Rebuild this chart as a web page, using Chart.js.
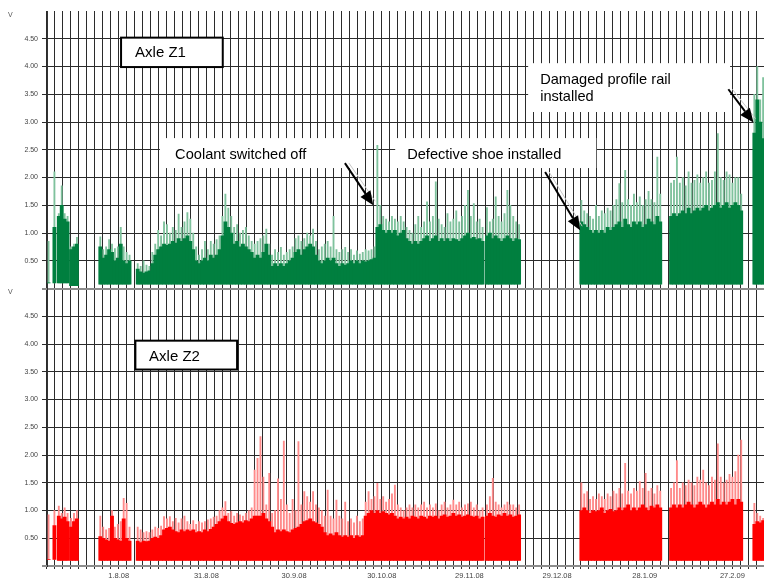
<!DOCTYPE html>
<html>
<head>
<meta charset="utf-8">
<title>Axle Z1 / Z2</title>
<script src="https://cdn.jsdelivr.net/npm/chart.js@4/dist/chart.umd.min.js"></script>
<style>
  html, body { margin: 0; padding: 0; background: #fff; }
  #axleChart { display: block; }
</style>
</head>
<body>
<canvas id="axleChart" width="764" height="583"></canvas>
<script>
// x values are days counted from 1.8.08 (day 0), y values are volts

// ---- axis ----
const dateLabels = ['1.8.08', '31.8.08', '30.9.08', '30.10.08', '29.11.08', '29.12.08', '28.1.09', '27.2.09'];
const labelDays  = [0, 30, 60, 90, 120, 150, 180, 210];
const dayMin = -24.54;
const dayMax = 220.8;

// ---- Axle Z1 (green) : one row per recorded block, one value per day ----
const z1Start = [-24, -22, -20.5, -16.3, -6.3, 6.5, 126, 158.3, 189, 217.5];
const z1Base  = [0.1, 0.1, 0.1, 0.05, 0.08, 0.08, 0.08, 0.08, 0.08, 0.08];
const z1Body = [
  [0.1],
  [1.1],
  [1.3, 1.5, 1.25, 1.2],
  [0.7, 0.75, 0.8],
  [0.75, 0.55, 0.6, 0.7, 0.65, 0.5, 0.55, 0.8, 0.5, 0.45, 0.5],
  [0.35, 0.3, 0.28, 0.3, 0.32,
   0.45, 0.6, 0.7, 0.75, 0.8, 0.78, 0.8, 0.85, 0.82, 0.9,
   0.85, 0.9, 0.95, 0.85, 0.7, 0.5, 0.45, 0.5, 0.55, 0.5,
   0.6, 0.55, 0.6, 0.7, 0.95, 1.2, 1.1, 1.0, 0.8, 0.85,
   0.75, 0.8, 0.75, 0.7, 0.65, 0.55, 0.6, 0.55, 0.65, 0.8,
   0.6, 0.4, 0.45, 0.4, 0.45, 0.4, 0.45, 0.5, 0.55, 0.65,
   0.7, 0.6, 0.7, 0.75, 0.8, 0.75, 0.6, 0.5, 0.45, 0.5,
   0.55, 0.5, 0.55, 0.45, 0.4, 0.45, 0.42, 0.45, 0.5, 0.45,
   0.5, 0.45, 0.5, 0.48, 0.5, 0.52, 0.55, 1.1, 1.15, 1.05,
   1.0, 1.05, 1.0, 1.05, 0.95, 1.0, 1.05, 0.9, 0.85, 0.8,
   0.85, 0.8, 0.85, 0.9, 0.95, 0.85, 0.9, 0.95, 0.85, 0.9,
   0.85, 0.9, 0.85, 0.9, 0.88, 0.85, 0.9, 0.95, 1.0, 0.9,
   0.92, 0.88, 0.9, 0.85],
  [0.95, 1.0, 0.9, 0.95, 0.9, 0.85, 0.9, 0.95, 0.9, 0.85, 0.9, 0.88],
  [1.2, 1.15, 1.1, 1.05, 1.0, 1.05, 1.0, 1.05, 1.0, 1.1, 1.05, 1.1, 1.15, 1.2,
   1.1, 1.25, 1.15, 1.1, 1.2, 1.15, 1.2, 1.1, 1.15, 1.25, 1.2, 1.15, 1.3, 1.2],
  [1.3, 1.35, 1.3, 1.35, 1.4, 1.35, 1.45, 1.35, 1.4, 1.45, 1.4, 1.45, 1.5,
   1.4, 1.45, 1.5, 1.55, 1.45, 1.5, 1.55, 1.45, 1.5, 1.55, 1.5, 1.4],
  [2.8, 3.4, 3.0, 2.7]
];
const z1Peak = [
  [0.85],
  [2.1],
  [1.35, 1.85, 1.35, 1.3],
  [0.75, 0.8, 0.92],
  [0.93, 0.7, 0.75, 0.88, 0.8, 0.72, 0.75, 1.1, 0.75, 0.65, 0.6],
  [0.45, 0.4, 0.5, 0.42, 0.4,
   0.65, 0.8, 1.05, 0.95, 1.2, 1.15, 1.0, 1.1, 1.05, 1.34,
   1.1, 1.2, 1.37, 1.25, 1.0, 0.75, 0.6, 0.7, 0.85, 0.7,
   0.85, 0.8, 0.88, 0.95, 1.3, 1.7, 1.45, 1.3, 1.1, 1.15,
   1.0, 1.05, 1.1, 0.95, 0.85, 0.8, 0.85, 0.9, 0.95, 1.07,
   0.8, 0.6, 0.7, 0.65, 0.74, 0.6, 0.65, 0.7, 0.75, 0.9,
   0.95, 0.85, 0.9, 1.0, 0.95, 1.07, 0.85, 0.7, 0.75, 0.8,
   0.85, 0.75, 1.3, 0.7, 0.65, 0.7, 0.74, 0.65, 0.7, 0.6,
   0.68, 0.62, 0.65, 0.7, 0.68, 0.7, 0.75, 2.58, 1.5, 1.3,
   1.25, 1.2, 1.3, 1.25, 1.2, 1.3, 1.2, 1.1, 1.05, 1.0,
   1.15, 1.3, 1.1, 1.2, 1.56, 1.2, 1.3, 1.92, 1.25, 1.15,
   1.1, 1.35, 1.2, 1.25, 1.4, 1.2, 1.3, 1.5, 1.77, 1.3,
   1.53, 1.2, 1.25, 1.1],
  [1.46, 1.2, 1.25, 1.65, 1.3, 1.2, 1.35, 1.77, 1.5, 1.3, 1.2, 1.15],
  [1.59, 1.4, 1.35, 1.3, 1.25, 1.5, 1.3, 1.4, 1.35, 1.45, 1.4, 1.5, 1.6, 1.89,
   1.55, 2.13, 1.6, 1.5, 1.7, 1.55, 1.65, 1.5, 1.6, 1.75, 1.6, 1.55, 2.37, 1.7],
  [1.9, 1.95, 2.37, 1.9, 2.0, 1.85, 2.1, 1.9, 1.95, 2.05, 1.9, 2.0, 2.1,
   1.9, 1.95, 2.1, 2.79, 2.0, 1.95, 2.1, 2.05, 1.9, 2.0, 2.0, 1.7],
  [3.5, 4.0, 3.4, 3.8]
];

// ---- Axle Z2 (red) ----
const z2Start = [-24, -22, -20.5, -16.3, -6.3, 6.5, 126, 158.3, 189, 217.5];
const z2Base  = [0.12, 0.12, 0.1, 0.1, 0.1, 0.1, 0.1, 0.1, 0.1, 0.1];
const z2Body = [
  [0.12],
  [0.73],
  [0.9, 0.85, 0.88, 0.8],
  [0.7, 0.8, 0.85],
  [0.53, 0.5, 0.47, 0.45, 0.9, 0.5, 0.47, 0.45, 0.85, 0.5, 0.45],
  [0.45, 0.42, 0.45, 0.44, 0.45,
   0.5, 0.52, 0.5, 0.55, 0.65, 0.68, 0.7, 0.65, 0.62, 0.6,
   0.65, 0.62, 0.65, 0.63, 0.65, 0.6, 0.62, 0.6, 0.65, 0.62,
   0.66, 0.7, 0.75, 0.8, 0.85, 0.9, 0.8, 0.77, 0.75, 0.78,
   0.8, 0.78, 0.82, 0.8, 0.85, 0.9, 0.9, 0.9, 0.95, 0.85,
   0.8, 0.7, 0.6, 0.65, 0.62, 0.65, 0.62, 0.6, 0.65, 0.68,
   0.7, 0.75, 0.8, 0.82, 0.85, 0.8, 0.78, 0.75, 0.7, 0.6,
   0.55, 0.58, 0.55, 0.6, 0.55, 0.52, 0.55, 0.52, 0.55, 0.5,
   0.55, 0.52, 0.55, 0.9, 0.95, 1.0, 0.95, 1.0, 0.95, 0.98,
   0.95, 0.92, 0.95, 0.9, 0.85, 0.88, 0.85, 0.88, 0.85, 0.9,
   0.88, 0.85, 0.9, 0.88, 0.85, 0.9, 0.88, 0.9, 0.85, 0.9,
   0.92, 0.88, 0.9, 0.95, 0.9, 0.92, 0.88, 0.9, 0.92, 0.9,
   0.88, 0.9, 0.85, 0.88],
  [0.9, 0.95, 0.9, 0.88, 0.92, 0.9, 0.95, 0.9, 0.92, 0.88, 0.9, 0.92],
  [1.0, 1.05, 1.0, 0.95, 1.0, 0.98, 1.0, 1.05, 0.95, 1.0, 1.02, 0.98, 1.0, 1.05,
   1.0, 1.05, 1.1, 1.0, 1.05, 1.0, 1.05, 1.1, 1.05, 1.0, 1.08, 1.05, 1.1, 1.05],
  [1.05, 1.1, 1.05, 1.1, 1.05, 1.1, 1.15, 1.1, 1.05, 1.1, 1.15, 1.1, 1.05,
   1.1, 1.15, 1.1, 1.2, 1.1, 1.15, 1.1, 1.15, 1.2, 1.1, 1.2, 1.15],
  [0.75, 0.8, 0.78, 0.82]
];
const z2Peak = [
  [0.92],
  [1.0],
  [1.08, 0.95, 1.05, 0.95],
  [0.86, 0.95, 1.0],
  [0.9, 0.7, 0.65, 0.68, 1.0, 0.7, 0.75, 0.8, 1.22, 1.13, 0.7],
  [0.7, 0.65, 0.6, 0.62, 0.6,
   0.65, 0.7, 0.68, 0.72, 0.89, 0.85, 0.89, 0.8, 0.86, 0.78,
   0.85, 0.9, 0.8, 0.75, 0.82, 0.75, 0.8, 0.78, 0.8, 0.83,
   0.85, 0.88, 0.9, 1.0, 1.05, 1.16, 0.95, 0.98, 0.9, 0.95,
   0.92, 0.9, 0.95, 1.0, 1.05, 1.73, 1.94, 2.33, 1.6, 1.1,
   1.67, 0.95, 1.0, 1.57, 1.2, 2.25, 1.1, 0.95, 1.2, 1.0,
   2.24, 1.1, 1.34, 1.25, 1.15, 1.34, 1.1, 1.05, 1.0, 0.9,
   1.37, 0.9, 0.85, 1.19, 0.9, 0.85, 1.15, 0.8, 0.85, 0.78,
   0.9, 0.8, 0.85, 1.15, 1.34, 1.2, 1.25, 1.49, 1.2, 1.25,
   1.15, 1.2, 1.3, 1.46, 1.1, 1.05, 1.0, 1.05, 1.1, 1.05,
   1.1, 1.05, 1.1, 1.15, 1.05, 1.1, 1.05, 1.12, 1.0, 1.1,
   1.15, 1.05, 1.1, 1.19, 1.1, 1.15, 1.05, 1.1, 1.12, 1.15,
   1.05, 1.1, 1.0, 1.05],
  [1.1, 1.25, 1.58, 1.15, 1.1, 1.05, 1.1, 1.15, 1.1, 1.1, 1.05, 1.1],
  [1.5, 1.3, 1.34, 1.2, 1.25, 1.2, 1.3, 1.25, 1.2, 1.3, 1.25, 1.35, 1.3, 1.4,
   1.3, 1.85, 1.35, 1.3, 1.4, 1.35, 1.52, 1.4, 1.67, 1.35, 1.4, 1.3, 1.45, 1.35],
  [1.4, 1.5, 1.9, 1.4, 1.5, 1.45, 1.55, 1.5, 1.45, 1.6, 1.55, 1.73, 1.5,
   1.45, 1.6, 1.55, 2.2, 1.6, 1.5, 1.55, 1.65, 1.6, 1.7, 2.0, 2.27],
  [1.13, 0.95, 0.9, 0.86]
];

// ---- notes on the chart (day, volt) ----
const noteBoxes = [
  { axis: 'yTop', d1: 14.1, d2: 83.3, v1: 2.71, v2: 2.17, lines: ['Coolant switched off'], td: 19.3, tv: [2.41] },
  { axis: 'yTop', d1: 94.6, d2: 163.4, v1: 2.71, v2: 2.17, lines: ['Defective shoe installed'], td: 98.7, tv: [2.41] },
  { axis: 'yTop', d1: 140.1, d2: 209.2, v1: 4.06, v2: 3.18, lines: ['Damaged profile rail', 'installed'], td: 144.2, tv: [3.76, 3.46] }
];
const titleBoxes = [
  { axis: 'yTop', d1: 0.8, d2: 35.6, v1: 4.52, v2: 3.99, text: 'Axle Z1', td: 5.6, tv: 4.24 },
  { axis: 'yBot', d1: 5.7, d2: 40.5, v1: 4.06, v2: 3.54, text: 'Axle Z2', td: 10.4, tv: 3.76 }
];
const noteArrows = [
  { d1: 77.4, v1: 2.26, d2: 87.1, v2: 1.5 },
  { d1: 145.9, v1: 2.1, d2: 157.9, v2: 1.05 },
  { d1: 208.6, v1: 3.59, d2: 217.2, v2: 2.99 }
];

const FONT = '"Liberation Sans", Arial, sans-serif';

function buildBars(starts, bases, values) {
  var bars = [];
  starts.forEach(function (start, s) {
    values[s].forEach(function (v, i) {
      bars.push({ x: start + i, y: [bases[s], v] });
    });
  });
  return bars;
}

function dayLabel(value) {
  for (var i = 0; i < labelDays.length; i++) {
    if (Math.abs(labelDays[i] - value) < 0.01) return dateLabels[i];
  }
  return '';
}

function yLabel(value) {
  if (value <= 0 || value >= 5) return '';
  return value.toFixed(2);
}

function yGridColor(c) {
  if (c.tick.value >= 5) return 'rgba(0,0,0,0)';
  if (c.tick.value === 0) return '#8c8c8c';
  return '#2b2b2b';
}

function yGridWidth(c) {
  return c.tick.value === 0 ? 2 : 1;
}

function fitY(scale) {
  scale.width = 47;
  scale.paddingTop = 0;
  scale.paddingBottom = 0;
}

function yAxis() {
  return {
    type: 'linear',
    position: 'left',
    stack: 'axle',
    stackWeight: 1,
    min: 0,
    max: 5,
    ticks: { stepSize: 0.5, callback: yLabel, color: '#444', padding: 4, font: { family: FONT, size: 7 } },
    grid: { color: yGridColor, lineWidth: yGridWidth, tickLength: 5 },
    border: { display: true, color: '#333', width: 1 },
    afterFit: fitY
  };
}

var notesPlugin = {
  id: 'notes',
  afterDraw: function (chart) {
    var ctx = chart.ctx;
    var x = chart.scales.x;
    ctx.save();

    // unit labels
    ctx.fillStyle = '#555';
    ctx.font = '7px ' + FONT;
    ctx.textAlign = 'left';
    ctx.textBaseline = 'middle';
    ['yTop', 'yBot'].forEach(function (id) {
      ctx.fillText('V', 8, chart.scales[id].top + 4);
    });

    // white note boxes
    noteBoxes.forEach(function (b) {
      var y = chart.scales[b.axis];
      var l = x.getPixelForValue(b.d1), r = x.getPixelForValue(b.d2);
      var t = y.getPixelForValue(b.v1), btm = y.getPixelForValue(b.v2);
      ctx.fillStyle = '#fff';
      ctx.fillRect(l, t, r - l, btm - t);
      ctx.fillStyle = '#000';
      ctx.font = '14.6px ' + FONT;
      b.lines.forEach(function (line, i) {
        ctx.fillText(line, x.getPixelForValue(b.td), y.getPixelForValue(b.tv[i]));
      });
    });

    // framed axle titles
    titleBoxes.forEach(function (b) {
      var y = chart.scales[b.axis];
      var l = x.getPixelForValue(b.d1), r = x.getPixelForValue(b.d2);
      var t = y.getPixelForValue(b.v1), btm = y.getPixelForValue(b.v2);
      ctx.fillStyle = '#fff';
      ctx.fillRect(l, t, r - l, btm - t);
      ctx.strokeStyle = '#000';
      ctx.lineWidth = 2;
      ctx.strokeRect(l, t, r - l, btm - t);
      ctx.fillStyle = '#000';
      ctx.font = '15px ' + FONT;
      ctx.fillText(b.text, x.getPixelForValue(b.td), y.getPixelForValue(b.tv));
    });

    // arrows
    var yt = chart.scales.yTop;
    noteArrows.forEach(function (a) {
      var x1 = x.getPixelForValue(a.d1), y1 = yt.getPixelForValue(a.v1);
      var x2 = x.getPixelForValue(a.d2), y2 = yt.getPixelForValue(a.v2);
      var ang = Math.atan2(y2 - y1, x2 - x1);
      var len = 14, half = 6;
      var bx = x2 - len * Math.cos(ang), by = y2 - len * Math.sin(ang);
      // faint shadow line beside the arrow
      ctx.strokeStyle = '#c8c8c8';
      ctx.lineWidth = 1;
      ctx.beginPath();
      ctx.moveTo(x1 + 4, y1);
      ctx.lineTo(x2 + 2, y2 - 4);
      ctx.stroke();
      ctx.strokeStyle = '#000';
      ctx.lineWidth = 2;
      ctx.beginPath();
      ctx.moveTo(x1, y1);
      ctx.lineTo(bx, by);
      ctx.stroke();
      ctx.fillStyle = '#000';
      ctx.beginPath();
      ctx.moveTo(x2, y2);
      ctx.lineTo(bx + half * Math.sin(ang), by - half * Math.cos(ang));
      ctx.lineTo(bx - half * Math.sin(ang), by + half * Math.cos(ang));
      ctx.closePath();
      ctx.fill();
    });
    ctx.restore();
  }
};

new Chart(document.getElementById('axleChart').getContext('2d'), {
  type: 'bar',
  data: {
    datasets: [
      { label: 'Axle Z1', data: buildBars(z1Start, z1Base, z1Body), yAxisID: 'yTop',
        backgroundColor: '#007f3f', barThickness: 3.2, grouped: false, order: 1 },
      { label: 'Axle Z1 peaks', data: buildBars(z1Start, z1Base, z1Peak), yAxisID: 'yTop',
        backgroundColor: '#7fc29d', barThickness: 1.2, grouped: false, order: 2 },
      { label: 'Axle Z2', data: buildBars(z2Start, z2Base, z2Body), yAxisID: 'yBot',
        backgroundColor: '#ff0000', barThickness: 3.2, grouped: false, order: 1 },
      { label: 'Axle Z2 peaks', data: buildBars(z2Start, z2Base, z2Peak), yAxisID: 'yBot',
        backgroundColor: '#ff8a8a', barThickness: 1.2, grouped: false, order: 2 }
    ]
  },
  options: {
    responsive: false,
    animation: false,
    devicePixelRatio: 1,
    layout: { padding: { top: 11, left: 0, right: 0, bottom: 0 } },
    plugins: { legend: { display: false }, tooltip: { enabled: false } },
    scales: {
      x: {
        type: 'linear',
        min: dayMin,
        max: dayMax,
        offset: false,
        afterBuildTicks: function (scale) {
          var ticks = [];
          for (var k = -9; k <= 80; k++) ticks.push({ value: k * 30 / 11 });
          scale.ticks = ticks;
        },
        ticks: { autoSkip: false, maxRotation: 0, callback: dayLabel, color: '#444', padding: 2,
                 font: { family: FONT, size: 7.5 } },
        grid: { color: '#2b2b2b', lineWidth: 1, tickLength: 3, offset: false },
        border: { display: true, color: '#8c8c8c', width: 2 },
        afterFit: function (scale) {
          scale.height = 17;
          scale.paddingLeft = 0;
          scale.paddingRight = 0;
        }
      },
      // stacked left axes are placed bottom-up in declaration order
      yBot: yAxis(),
      yTop: yAxis()
    }
  },
  plugins: [notesPlugin]
});
</script>
</body>
</html>
